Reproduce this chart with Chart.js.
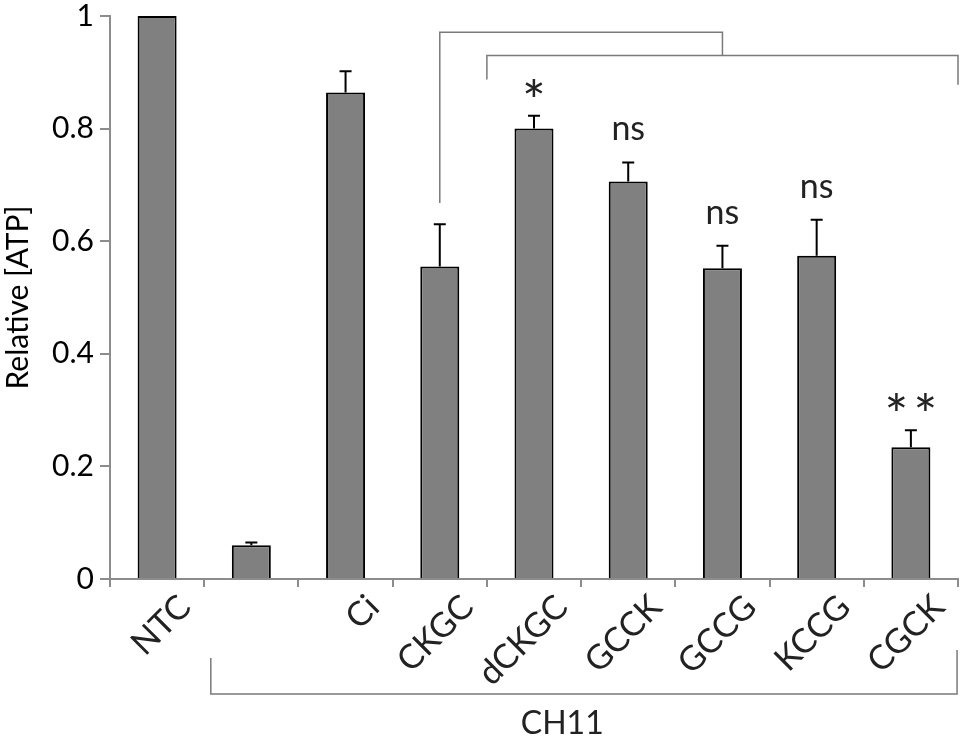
<!DOCTYPE html>
<html>
<head>
<meta charset="utf-8">
<script src="https://cdn.jsdelivr.net/npm/chart.js@4"></script>
<style>
  html, body { margin: 0; padding: 0; background: #fff; }
  #wrap { width: 963px; height: 738px; }
</style>
</head>
<body>
<div id="wrap"><canvas id="myChart"></canvas></div>
<script>
// data
const categories = ['NTC', '', 'Ci', 'CKGC', 'dCKGC', 'GCCK', 'GCCG', 'KCCG', 'CGCK'];
const atpValues = [1.0, 0.06, 0.864, 0.555, 0.80, 0.706, 0.552, 0.574, 0.234];
const atpErrors = [0, 0.005, 0.038, 0.075, 0.023, 0.034, 0.040, 0.064, 0.030];
const sigMarks = ['', '', '', '', '*', 'ns', 'ns', 'ns', '**'];
const yTickLabels = ['0', '0.2', '0.4', '0.6', '0.8', '1'];

const axisGray = '#8c8c8c';
const fontFam = 'Lato, "Open Sans", sans-serif';

// error bars + significance text
const errorBars = {
  id: 'errorBars',
  afterDatasetsDraw(chart) {
    const ctx = chart.ctx;
    const y = chart.scales.y;
    const meta = chart.getDatasetMeta(0);
    ctx.save();
    meta.data.forEach((bar, i) => {
      const top = y.getPixelForValue(atpValues[i] + atpErrors[i]);
      if (atpErrors[i] > 0) {
        ctx.strokeStyle = '#000';
        ctx.lineWidth = 2;
        ctx.beginPath();
        ctx.moveTo(bar.x, bar.y);
        ctx.lineTo(bar.x, top);
        ctx.moveTo(bar.x - 6, top);
        ctx.lineTo(bar.x + 6, top);
        ctx.stroke();
      }
      const m = sigMarks[i];
      if (!m) return;
      ctx.fillStyle = '#222';
      ctx.textAlign = 'center';
      ctx.textBaseline = 'alphabetic';
      if (m[0] === '*') {
        ctx.font = '56px ' + fontFam;
        const n = m.length;
        for (let k = 0; k < n; k++) {
          ctx.fillText('*', bar.x + (k - (n - 1) / 2) * 29, top + 5);
        }
      } else {
        ctx.font = '34px ' + fontFam;
        ctx.fillText(m, bar.x, top - 22);
      }
    });
    ctx.restore();
  }
};

// comparison brackets (x in category index, y in data units) and CH11 group bracket
const brackets = {
  id: 'brackets',
  afterDraw(chart) {
    const ctx = chart.ctx;
    const xs = chart.scales.x, ys = chart.scales.y;
    const px = v => xs.getPixelForValue(0) + v * (xs.getPixelForValue(1) - xs.getPixelForValue(0));
    const py = v => ys.getPixelForValue(v);
    ctx.save();
    ctx.strokeStyle = '#7a7a7a';
    ctx.lineWidth = 1.5;
    ctx.beginPath();
    // CKGC vs GCCG
    ctx.moveTo(px(3), py(0.668));
    ctx.lineTo(px(3), py(0.971));
    ctx.lineTo(px(6), py(0.971));
    ctx.lineTo(px(6), py(0.930));
    // CKGC vs group
    ctx.moveTo(px(3.5), py(0.887));
    ctx.lineTo(px(3.5), py(0.930));
    ctx.lineTo(px(8.5), py(0.930));
    ctx.lineTo(px(8.5), py(0.878));
    ctx.stroke();

    // CH11 group under the labels
    const b = chart.chartArea.bottom;
    ctx.beginPath();
    ctx.moveTo(px(0.57), b + 79);
    ctx.lineTo(px(0.57), b + 115);
    ctx.lineTo(px(8.49), b + 115);
    ctx.lineTo(px(8.49), b + 71);
    ctx.stroke();
    ctx.fillStyle = '#222';
    ctx.font = '32px ' + fontFam;
    ctx.textAlign = 'center';
    ctx.textBaseline = 'alphabetic';
    ctx.fillText('CH11', px(4.3), b + 155);
    ctx.restore();
  }
};

new Chart(document.getElementById('myChart'), {
  type: 'bar',
  data: {
    labels: categories,
    datasets: [{
      label: 'Relative [ATP]',
      data: atpValues,
      backgroundColor: '#808080',
      borderColor: '#000',
      borderWidth: 2,
      categoryPercentage: 1,
      barPercentage: 0.414
    }]
  },
  options: {
    responsive: true,
    maintainAspectRatio: false,
    animation: false,
    devicePixelRatio: 1,
    layout: { padding: { top: 16, right: 5, left: 0, bottom: 0 } },
    plugins: { legend: { display: false }, tooltip: { enabled: false } },
    scales: {
      x: {
        offset: true,
        grid: { offset: true, drawOnChartArea: false, color: axisGray, lineWidth: 2, tickLength: 8 },
        border: { color: axisGray, width: 2 },
        ticks: {
          color: '#222',
          font: { family: fontFam, size: 34 },
          minRotation: 45, maxRotation: 45,
          labelOffset: 28, padding: 0, autoSkip: false
        },
        afterFit(s) { s.height = 159; s.paddingLeft = 0; s.paddingRight = 0; }
      },
      y: {
        min: 0, max: 1,
        grid: { drawOnChartArea: false, color: axisGray, lineWidth: 2, tickLength: 10 },
        border: { color: axisGray, width: 2 },
        ticks: {
          stepSize: 0.2,
          color: '#000',
          padding: 6,
          font: { family: fontFam, size: 30 },
          callback: (v, i) => yTickLabels[i]
        },
        title: {
          display: true, text: 'Relative [ATP]', color: '#000',
          font: { family: fontFam, size: 30 }, padding: 0
        },
        afterFit(s) { s.width = 110; s.paddingTop = 0; s.paddingBottom = 0; }
      }
    }
  },
  plugins: [errorBars, brackets]
});
</script>
</body>
</html>
